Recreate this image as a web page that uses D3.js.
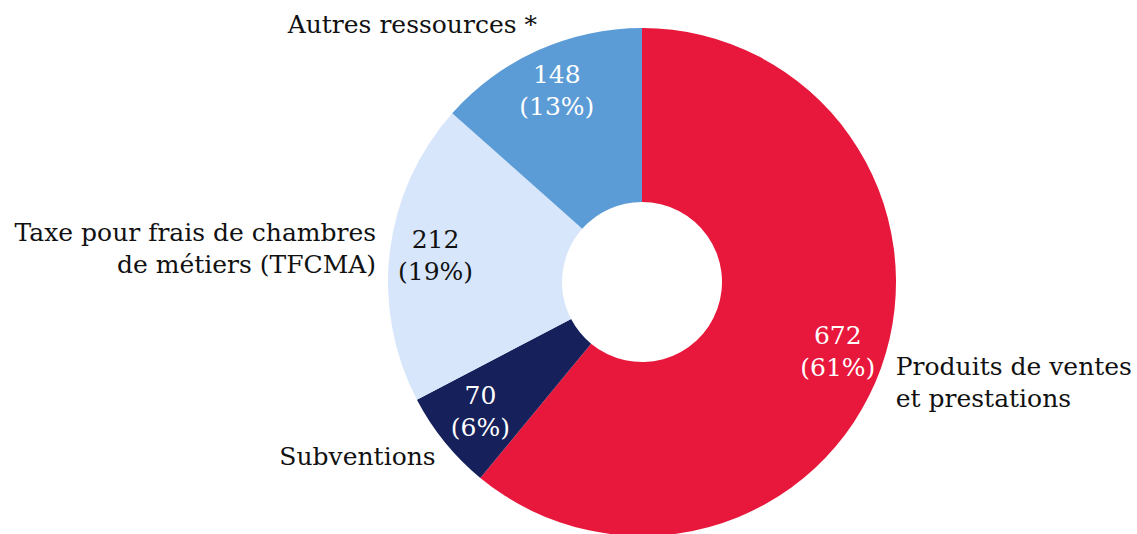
<!DOCTYPE html>
<html>
<head>
<meta charset="utf-8">
<script src="https://cdn.jsdelivr.net/npm/d3@7"></script>
<style>
  body { margin: 0; background: #fff; }
  svg text { font-family: "DejaVu Serif", serif; font-size: 25px; }
</style>
</head>
<body>
<div id="chart"></div>
<script>
// data, in order clockwise from 12 o'clock
var categories = ["Produits de ventes|et prestations", "Subventions", "Taxe pour frais de chambres|de métiers (TFCMA)", "Autres ressources *"];
var values = [672, 70, 212, 148];
var shares = ["61%", "6%", "19%", "13%"];
var colors = ["#E8173C", "#16205A", "#D7E6FB", "#5B9BD6"];
var textColors = ["#fff", "#fff", "#111", "#fff"];

var width = 1137, height = 534;
var cx = 642, cy = 282;
var outerR = 254, innerR = 80;

var svg = d3.select("#chart").append("svg")
  .attr("width", width)
  .attr("height", height);

var g = svg.append("g").attr("transform", "translate(" + cx + "," + cy + ")");

var pie = d3.pie().sort(null).value(function (d, i) { return values[i]; });
var arcs = pie(categories);

var arc = d3.arc().innerRadius(innerR).outerRadius(outerR);
var valueArc = d3.arc().innerRadius(208).outerRadius(208);
var nameArc = d3.arc().innerRadius(276).outerRadius(276);

g.selectAll("path.slice")
  .data(arcs)
  .enter()
  .append("path")
  .attr("class", "slice")
  .attr("d", arc)
  .attr("fill", function (d, i) { return colors[i]; });

// values inside slices
var vl = g.selectAll("text.val")
  .data(arcs)
  .enter()
  .append("text")
  .attr("class", "val")
  .attr("text-anchor", "middle")
  .attr("fill", function (d, i) { return textColors[i]; })
  .attr("transform", function (d) {
    var c = valueArc.centroid(d);
    return "translate(" + c[0] + "," + c[1] + ")";
  });
vl.append("tspan").attr("x", 0).attr("dy", "-0.35em").text(function (d, i) { return values[i]; });
vl.append("tspan").attr("x", 0).attr("dy", "1.28em").text(function (d, i) { return "(" + shares[i] + ")"; });

// category names outside
var nl = g.selectAll("text.name")
  .data(arcs)
  .enter()
  .append("text")
  .attr("class", "name")
  .attr("fill", "#111")
  .attr("text-anchor", function (d) {
    return (d.startAngle + d.endAngle) / 2 < Math.PI ? "start" : "end";
  })
  .attr("transform", function (d) {
    var c = nameArc.centroid(d);
    var mid = (d.startAngle + d.endAngle) / 2;
    var right = mid < Math.PI;
    // labels near the top sit a bit higher, the right one a bit lower
    var dy = right ? 7 : (Math.cos(mid) > 0.8 ? -6 : 0);
    return "translate(" + (c[0] + (right ? -6 : 8)) + "," + (c[1] + dy) + ")";
  });
nl.each(function (d, i) {
  var lines = categories[i].split("|");
  var t = d3.select(this);
  lines.forEach(function (l, k) {
    t.append("tspan")
      .attr("x", 0)
      .attr("dy", k === 0 ? (0.35 - (lines.length - 1) * 0.64) + "em" : "1.28em")
      .text(l);
  });
});
</script>
</body>
</html>
